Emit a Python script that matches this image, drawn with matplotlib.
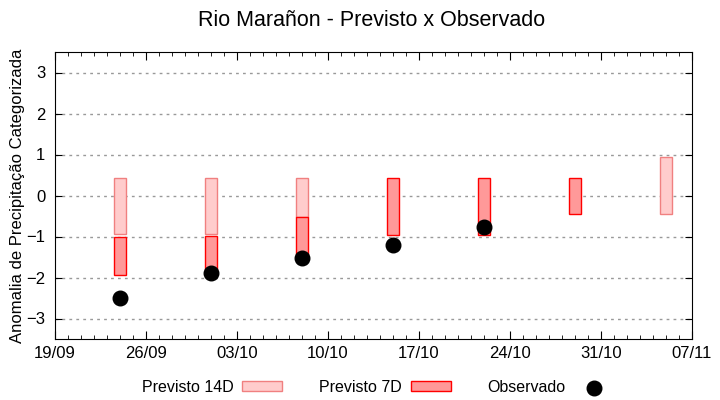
import numpy as np
import pandas as pd
import matplotlib
matplotlib.use('Agg')
import matplotlib.pyplot as plt
import matplotlib.dates as mdates
from matplotlib.ticker import MultipleLocator

plt.rcParams['font.family'] = ['Liberation Sans', 'DejaVu Sans']

# Previsões de 14 dias (faixa)
datas_14d = pd.to_datetime(['2024-09-24', '2024-10-01', '2024-10-08', '2024-11-05'])
topo_14d = [0.43, 0.43, 0.43, 0.95]
base_14d = [-0.95, -0.95, -0.52, -0.45]

# Previsões de 7 dias (faixa)
datas_7d = pd.to_datetime(['2024-09-24', '2024-10-01', '2024-10-08', '2024-10-15',
                           '2024-10-22', '2024-10-29'])
topo_7d = [-1.0, -1.0, -0.52, 0.43, 0.43, 0.43]
base_7d = [-1.95, -1.9, -1.46, -0.96, -0.96, -0.45]

# Observado
datas_obs = pd.to_datetime(['2024-09-24', '2024-10-01', '2024-10-08', '2024-10-15',
                            '2024-10-22'])
obs = [-2.51, -1.9, -1.52, -1.2, -0.77]

fig = plt.figure(figsize=(7.2, 4.0), dpi=100)
ax = fig.add_axes([55 / 720, 61 / 400, 637 / 720, 287 / 400])

alt_14d = np.array(topo_14d) - np.array(base_14d)
alt_7d = np.array(topo_7d) - np.array(base_7d)
b14 = ax.bar(datas_14d, alt_14d, bottom=base_14d, width=0.95, color='#ffcccc',
             edgecolor='#f08080', linewidth=1.0, label='Previsto 14D', zorder=3)
b7 = ax.bar(datas_7d, alt_7d, bottom=base_7d, width=0.95, color='#ff9999',
            edgecolor='red', linewidth=1.0, label='Previsto 7D', zorder=4)
sc = ax.scatter(datas_obs, obs, s=110, color='black', label='Observado', zorder=5)

ax.set_xlim(pd.Timestamp('2024-09-19'), pd.Timestamp('2024-11-07'))
ax.set_ylim(-3.5, 3.5)
ax.set_xticks(pd.date_range('2024-09-19', '2024-11-07', freq='7D'))
ax.xaxis.set_major_formatter(mdates.DateFormatter('%d/%m'))
ax.xaxis.set_minor_locator(mdates.DayLocator())
ax.yaxis.set_major_locator(MultipleLocator(1))

ax.tick_params(axis='both', which='both', direction='in', top=True, right=True)
ax.tick_params(axis='x', which='major', length=6, labelsize=12, pad=5)
ax.tick_params(axis='x', which='minor', length=3)
ax.tick_params(axis='y', which='major', length=5, labelsize=12, pad=7)

ax.grid(axis='y', linestyle=(0, (2, 3)), color='#999999', linewidth=1.0, zorder=0)
ax.set_axisbelow(True)

ax.set_ylabel('Anomalia de Precipitação Categorizada', fontsize=12)
ax.yaxis.set_label_coords(-0.047, 0.5)
fig.text(372 / 720, 0.948, 'Rio Marañon - Previsto x Observado', fontsize=15.5,
         ha='center', va='center')

leg = fig.legend([b14, b7, sc], ['Previsto 14D', 'Previsto 7D', 'Observado'],
                 loc='center', bbox_to_anchor=(0.525, 0.032), ncol=3,
                 markerfirst=False, frameon=False, columnspacing=2.3,
                 handlelength=2.5, handleheight=0.5, handletextpad=0.55,
                 prop={'size': 11.5})

fig.savefig('out.png', dpi=100)
